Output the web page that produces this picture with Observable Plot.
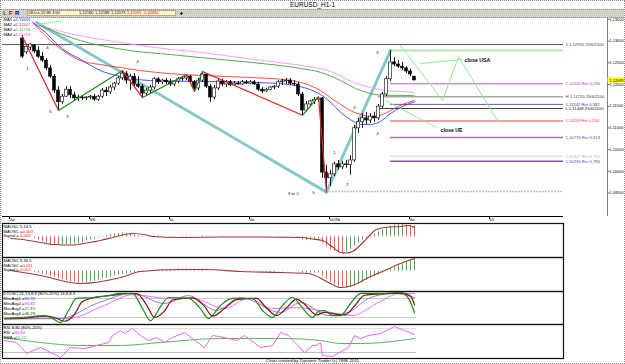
<!DOCTYPE html>
<html><head><meta charset="utf-8">
<script src="https://cdn.jsdelivr.net/npm/d3@7"></script>
<script src="https://cdn.jsdelivr.net/npm/@observablehq/plot@0.6"></script>
<style>
body{margin:0;background:#fff;}
#wrap{position:relative;width:625px;height:364px;overflow:hidden;background:#fff;font-family:"Liberation Sans",Arial,sans-serif;color:#000;}
.abs{position:absolute;white-space:nowrap;}
#title{left:0;top:0;width:625px;height:9px;text-align:center;font-size:6.5px;line-height:9px;}
#toolbar{left:1px;top:9px;width:623px;height:7px;background:#d4d0c8;border-top:1px dotted #8a8a8a;border-bottom:1px dotted #8a8a8a;}
#box{left:27px;top:10px;width:149px;height:6px;background:#fdf6c8;border:1px solid #b0a890;box-sizing:border-box;}
.tb{top:10px;font-size:4px;line-height:6px;}
.pane{position:absolute;left:0;}
#caption{left:0;top:358px;width:625px;text-align:center;font-size:4.4px;line-height:6px;}
#frame{left:0;top:0;width:623px;height:362px;border:1px dotted #8a8a8a;pointer-events:none;}
</style></head>
<body>
<div id="wrap">
  <div id="title" class="abs">EURUSD_H1-1</div>
  <div id="toolbar" class="abs"></div>
  <div class="abs" style="left:3px;top:9px;font-size:6px;font-weight:bold;color:#008000;line-height:8px">L</div>
  <div class="abs" style="left:9px;top:9px;font-size:6px;font-weight:bold;color:#c00000;line-height:8px">F</div>
  <div class="abs" style="left:15px;top:9px;font-size:6px;font-weight:bold;color:#0000c0;line-height:8px">R</div>
  <div id="box" class="abs"></div>
  <div class="abs tb" style="left:28.5px">08-Lis-15 Wt 3:00</div>
  <div class="abs tb" style="left:79px">1,12180</div>
  <div class="abs tb" style="left:95px">1,12186</div>
  <div class="abs tb" style="left:111px">1,12079</div>
  <div class="abs tb" style="left:127px;color:#e00000">1,12095</div>
  <div class="abs tb" style="left:143px;color:#e00000">-0,00260</div>
  <div class="abs" style="left:180px;top:9px;font-size:5.5px;line-height:8px">&#9830;</div>
  <div id="p1" class="pane" style="top:223px"></div>
  <div id="p2" class="pane" style="top:257px"></div>
  <div id="p3" class="pane" style="top:291px"></div>
  <div id="p4" class="pane" style="top:324px"></div>
  <div id="p0" class="pane" style="top:0px"></div>
  <div id="caption" class="abs">Chart created by Dynamic Trader (c) 1996-2011</div>
  <div id="frame" class="abs"></div>
</div>
<script>
// ---------------- DATA ----------------
const open = [1.1306,1.1274,1.1285,1.1290,1.1278,1.1264,1.1255,1.1237,1.1218,1.1186,
1.1159,1.1172,1.1188,1.1175,1.1168,1.1170,1.1168,1.1170,1.1172,1.1165,
1.1172,1.1186,1.1182,1.1193,1.1202,1.1214,1.1225,1.1209,1.1218,1.1200,
1.1195,1.1179,1.1186,1.1193,1.1212,1.1205,1.1209,1.1205,1.1200,1.1207,
1.1212,1.1214,1.1218,1.1205,1.1191,1.1209,1.1223,1.1195,1.1170,1.1191,
1.1207,1.1200,1.1205,1.1198,1.1202,1.1200,1.1205,1.1202,1.1205,1.1200,
1.1188,1.1184,1.1188,1.1193,1.1195,1.1205,1.1207,1.1209,1.1202,1.1200,
1.1177,1.1140,1.1154,1.1161,1.1165,1.1168,1.0997,1.0984,1.0993,1.1016,
1.1009,1.1016,1.1014,1.1025,1.1099,1.1113,1.1122,1.1117,1.1126,1.1122,
1.1149,1.1177,1.1212,1.1251,1.1246,1.1241,1.1237,1.1230,1.12180];
const high = [1.1313,1.1292,1.1294,1.1292,1.1287,1.1274,1.1260,1.1244,1.1223,1.1195,
1.1177,1.1195,1.1195,1.1182,1.1175,1.1175,1.1172,1.1175,1.1177,1.1175,
1.1191,1.1193,1.1198,1.1205,1.1218,1.1232,1.1230,1.1223,1.1225,1.1218,
1.1200,1.1191,1.1198,1.1216,1.1216,1.1212,1.1214,1.1212,1.1209,1.1216,
1.1218,1.1223,1.1221,1.1209,1.1214,1.1230,1.1225,1.1200,1.1198,1.1214,
1.1212,1.1209,1.1209,1.1207,1.1207,1.1209,1.1209,1.1209,1.1209,1.1205,
1.1193,1.1191,1.1195,1.1198,1.1209,1.1212,1.1214,1.1214,1.1209,1.1205,
1.1182,1.1161,1.1163,1.1170,1.1172,1.1170,1.1014,1.1002,1.1021,1.1025,
1.1023,1.1025,1.1036,1.1106,1.1122,1.1133,1.1136,1.1133,1.1136,1.1154,
1.1182,1.1218,1.1278,1.1262,1.1255,1.1251,1.1241,1.1235,1.12186];
const low = [1.1260,1.1269,1.1278,1.1271,1.1260,1.1251,1.1232,1.1214,1.1179,1.1140,
1.1154,1.1170,1.1168,1.1161,1.1161,1.1163,1.1163,1.1165,1.1161,1.1161,
1.1168,1.1172,1.1177,1.1186,1.1198,1.1209,1.1200,1.1186,1.1195,1.1191,
1.1170,1.1172,1.1179,1.1188,1.1200,1.1200,1.1200,1.1195,1.1195,1.1202,
1.1207,1.1209,1.1200,1.1184,1.1186,1.1205,1.1191,1.1159,1.1165,1.1186,
1.1195,1.1193,1.1195,1.1195,1.1198,1.1198,1.1200,1.1200,1.1198,1.1184,
1.1179,1.1182,1.1186,1.1188,1.1191,1.1198,1.1200,1.1198,1.1195,1.1172,
1.1129,1.1136,1.1149,1.1154,1.1159,1.0984,1.0952,1.0965,1.0988,1.1002,
1.1004,1.1007,1.0991,1.1021,1.1087,1.1099,1.1108,1.1110,1.1113,1.1117,
1.1145,1.1172,1.1207,1.1241,1.1237,1.1232,1.1225,1.1218,1.12079];
const close = [1.1264,1.1287,1.1292,1.1276,1.1264,1.1255,1.1237,1.1218,1.1186,1.1159,
1.1172,1.1188,1.1175,1.1168,1.1170,1.1168,1.1170,1.1172,1.1165,1.1172,
1.1186,1.1182,1.1193,1.1202,1.1214,1.1225,1.1209,1.1218,1.1200,1.1195,
1.1179,1.1186,1.1193,1.1212,1.1205,1.1209,1.1205,1.1200,1.1207,1.1212,
1.1214,1.1218,1.1205,1.1191,1.1209,1.1223,1.1195,1.1170,1.1191,1.1207,
1.1200,1.1205,1.1198,1.1202,1.1200,1.1205,1.1202,1.1205,1.1200,1.1188,
1.1184,1.1188,1.1193,1.1195,1.1205,1.1207,1.1209,1.1202,1.1200,1.1177,
1.1140,1.1154,1.1161,1.1165,1.1168,1.0997,1.0984,1.0993,1.1016,1.1009,
1.1016,1.1014,1.1025,1.1099,1.1113,1.1122,1.1117,1.1126,1.1122,1.1149,
1.1177,1.1212,1.1251,1.1246,1.1241,1.1237,1.1230,1.1223,1.12095];

// moving averages [bar, price]
const ma1 = [[2.5,1.1343],[5.75,1.1320],[8.75,1.1292],[11.25,1.1274],[13.75,1.1262],[17,1.1244],[19.5,1.1232],[23.25,1.1221],[27,1.1214],[32,1.1209],[44.5,1.1207],[57,1.1205],[64.5,1.1202],[69.5,1.1195],[72,1.1188],[74.5,1.1177],[77,1.1159],[79.5,1.1136],[82,1.1119],[84.5,1.1108],[87,1.1108],[89.5,1.1115],[92,1.1133],[94.5,1.1147],[98,1.1160]];
const ma2 = [[2.75,1.1341],[7,1.1301],[10.75,1.1274],[14.5,1.1255],[19.5,1.1246],[24.5,1.1239],[29.5,1.1232],[37,1.1225],[44.5,1.1221],[57,1.1216],[64.5,1.1212],[69.5,1.1205],[74.5,1.1186],[77,1.1170],[79.5,1.1154],[82,1.1140],[84.5,1.1131],[87,1.1126],[89.5,1.1129],[92,1.1140],[94.5,1.1152],[98,1.1163]];
const ma3 = [[3.75,1.1338],[9.5,1.1317],[14.5,1.1301],[19.5,1.1290],[27,1.1278],[37,1.1269],[44.5,1.1262],[57,1.1251],[69.5,1.1237],[74.5,1.1228],[79.5,1.1209],[83.25,1.1191],[87,1.1179],[90.75,1.1175],[94.5,1.1175],[98,1.1174]];
const ma4 = [[3.75,1.1338],[12,1.1317],[19.5,1.1304],[29.5,1.1290],[37,1.1281],[44.5,1.1274],[52.75,1.1264],[62,1.1253],[69.5,1.1244],[77,1.1230],[82.75,1.1205],[87,1.1193],[91.25,1.1186],[94.5,1.1184],[98,1.1182]];
const maNames = ["MA1 =","MA2 =","MA3 =","MA4 ="];
const maValues = ["1,11605","1,11507","1,11733","1,11783"];

// wave zigzags [bar, price]
const zigDown = [[[0,1.1310],[9,1.1140]],[[25,1.1232],[30,1.1170]],[[41,1.1223],[43,1.1184]],[[45,1.1230],[70,1.1129]],[[74,1.1172],[76,1.0952]]];
const zigUp = [[[9,1.1140],[25,1.1232]],[[30,1.1170],[41,1.1223]],[[43,1.1184],[45,1.1230]],[[70,1.1129],[74,1.1172]]];
const trendPath = [[3.5,1.1343],[76,1.0952],[92,1.1278]];
const projTop = [[3.5,1.1338],[10,1.1347]];
const projUSA = [[94.5,1.1290],[105,1.1163],[109,1.1264],[118.75,1.1117]];
const pointerUSA = [[99.5,1.1248],[110,1.1258]];
const projUE = [[90.75,1.1163],[103.5,1.1101]];

// levels
const topLevel = 1.1292, topLabel = "1 1,12920 25/6/2100";
const peakPrice = 1.12783, peakBar = 92;
const lowPrice = 1.09535, lowBar = 76;
const fibRatios = ["0,236","0,382","0,500","0,618","0,750","0,786"];
const fibPrices = [1.12016,1.11542,1.11159,1.10776,1.10347,1.10230];
const hlPrices = [1.1172,1.11448];
const hlLabels = ["H 1,11720 25/6/2100","L 1,11448 25/6/2100"];

// wave labels
const waveText = ["1","4","5","3","4","3 or C","5","1","2","3","4","5"];
const waveBar = [1.25,6.25,7,11.25,28.75,67.75,72.75,78,81.25,83,88.75,88.75];
const wavePrice = [1.1237,1.1285,1.1138,1.1126,1.1253,1.0949,1.0951,1.1043,1.0970,1.1147,1.1087,1.1274];

// axes
const yTicks = [1.095,1.100,1.105,1.110,1.115,1.120,1.125,1.130,1.135];
const xTicks = [-3.5,16.5,36.5,56.5,76.5,96.5,116.5];
const xLabels = ["2w","3/6","5c","6o","10/3b","9w","15"];
const lastPrice = 1.12095;

// MAOSC 5,14,5
const osc1 = [null,null,null,-0.00045,-0.0009,-0.00135,-0.0018,-0.00225,-0.0024,-0.00255,
-0.0024,-0.0024,-0.00225,-0.0021,-0.00195,-0.00165,-0.0012,-0.0009,-0.0006,-0.0003,
0.00015,0.00045,0.00075,0.0009,0.00105,0.0012,0.00105,0.0009,0.0006,0.00045,
0.00015,0,0.00015,0.0003,0.0003,0.00015,0,-0.00015,-0.00015,0,
0.00015,0.0003,0.00015,-0.00015,0,0.0003,0.00015,-0.0003,-0.00015,0,
0.00015,0.00015,0,0,0.00015,0.00015,0.00015,0.00015,0.00015,0,
-0.00015,-0.00015,-0.00015,0,0.00015,0.00015,0.00015,0.00015,0,-0.0003,
-0.0009,-0.00105,-0.0009,-0.00075,-0.0006,-0.0018,-0.003,-0.0039,-0.00435,-0.0048,
-0.00495,-0.0045,-0.00375,-0.0027,-0.0018,-0.0009,-0.0003,0.0003,0.0009,0.0015,
0.0021,0.0027,0.0033,0.0036,0.00375,0.00375,0.0036,0.00345,0.0033];
const sig1 = [[-3,-0.00045],[0,-0.00075],[4.5,-0.00165],[8,-0.00225],[12.5,-0.0024],[16,-0.0018],[19.5,-0.00105],[23,0],[27.5,0.00105],[31,0.0006],[32.5,0.00015],[39.5,-0.00015],[49.5,0],[59.5,0],[69.5,-0.00015],[72.5,-0.0006],[75,-0.00105],[77.5,-0.003],[79.5,-0.00465],[81,-0.0048],[82.5,-0.00435],[85.5,-0.0012],[88.5,0.00225],[91.5,0.003],[94.5,0.00315],[96.5,0.00345],[98,0.00285]];
// MAOSC 5,34,5
const osc2 = [null,null,null,-0.0003,-0.0006,-0.0009,-0.0012,-0.0015,-0.0018,-0.00225,
-0.00255,-0.00285,-0.00315,-0.0033,-0.0036,-0.00345,-0.0033,-0.00315,-0.003,-0.0027,
-0.0024,-0.0021,-0.0018,-0.0015,-0.0012,-0.0009,-0.00075,-0.0006,-0.00045,-0.0003,
-0.00015,0,0.00015,0.0003,0.00045,0.00045,0.0006,0.0006,0.0006,0.0006,
0.0006,0.0006,0.0006,0.00045,0.00045,0.00045,0.0003,0,0,0.00015,
0.00015,0.00015,0,0,0,0,0.00015,0.00015,0.00015,0,
-0.00015,-0.0003,-0.0003,-0.0003,-0.00015,-0.00015,0,0,0,-0.00015,
-0.00045,-0.0006,-0.0006,-0.0006,-0.0006,-0.0015,-0.0024,-0.0033,-0.0039,-0.0045,
-0.00495,-0.0051,-0.00495,-0.0045,-0.0039,-0.0033,-0.0027,-0.0021,-0.00165,-0.0012,
-0.0006,0,0.00075,0.0012,0.00165,0.0021,0.0027,0.0033,0.0039];
const sig2 = [[-3,0.0002],[4.5,-0.0013],[14.5,-0.0037],[24.5,-0.0019],[29.5,-0.0001],[39.5,0.0005],[45.5,0.0005],[54.5,-0.0001],[64.5,-0.0004],[71.5,-0.0007],[76.5,-0.0034],[79.5,-0.0049],[82.5,-0.0043],[86.5,-0.0019],[90.5,0.0002],[94.5,0.0023],[98,0.0038]];

// DTOSC
const stGreen = [[-4.5,17],[0.5,20],[5.5,26],[7.5,17],[9.5,4],[11.5,42],[13.5,80],[17.5,83],[21.5,89],[24.5,96],[27.5,96],[30,48],[32,10],[34.5,54],[36.5,83],[41.5,80],[44.5,48],[46.5,17],[49.5,58],[52.5,80],[57.5,80],[60,42],[62.5,20],[65,58],[67.5,83],[69.5,58],[72.5,20],[74,39],[75.5,42],[77.5,26],[79.5,26],[82,64],[84.5,96],[90.5,96],[94.5,99],[96.5,80],[98,35]];
const stRed = [[-4.5,16],[0.5,18],[5.5,24],[8,20],[10.5,8],[13,30],[15,70],[18.5,84],[22.5,90],[25.5,95],[28.5,95],[31,60],[33,20],[35.5,40],[37.5,75],[42.5,82],[45.5,55],[47.5,24],[50.5,48],[53.5,76],[58.5,80],[61,50],[63.5,26],[66,50],[68.5,78],[70.5,62],[73.5,28],[75.5,36],[78.5,30],[80.5,28],[83,56],[85.5,90],[91.5,95],[95,97],[97,88],[98,60]];
const stBlue = [[-4.5,17],[9.5,17],[18.5,64],[27.5,96],[35.5,64],[41.5,89],[48.5,42],[54.5,83],[64.5,36],[69.5,67],[76.5,26],[81.5,36],[86.5,80],[92.5,96],[98,83]];
const stPink = [[-4.5,15],[11.5,17],[20.5,58],[27.5,92],[36.5,80],[42.5,80],[50.5,48],[56.5,80],[62.5,48],[68.5,51],[74.5,42],[82.5,26],[88.5,64],[94.5,96],[98,96]];

// RSI
const rsi = [[-4.5,50],[-1.5,45],[1,17.5],[4.5,32.5],[9.5,7.5],[12,32.5],[15.5,30],[18.5,37.5],[21.5,45],[22.5,62.5],[24.5,75],[25.5,67.5],[27.5,80],[29.5,62.5],[31.5,50],[33.5,57.5],[35.5,45],[37.5,57.5],[40.5,70],[42.5,55],[45.5,32.5],[47.5,62.5],[50.5,57.5],[53.5,50],[55.5,62.5],[59.5,32.5],[62.5,37.5],[64.5,70],[66.5,62.5],[70.5,20],[72.5,37.5],[73.5,37.5],[74.5,45],[75,12.5],[77.5,10],[81.5,32.5],[83,62.5],[84.5,55],[86.5,62.5],[89.5,67.5],[93,85],[95.5,75],[98,65]];
const rsiEma = [[-4.5,57],[4.5,45],[14.5,37.5],[24.5,37.5],[34.5,45],[49.5,55],[64.5,55],[74.5,50],[79.5,42.5],[84.5,42.5],[94.5,50],[98,55]];

// ---------------- DRAW ----------------
const FONT = "'Liberation Sans', Arial, sans-serif";
const FS = 4.2;
const fmt5 = d => d.toFixed(5).replace(".", ",");
const lineEnd = 135.25;
const fibStyle = [
  {stroke:"#c058c8", w:1, text:"#a040b0"},
  {stroke:"#7050d0", w:1, text:"#5030c0"},
  {stroke:"#ff9c9c", w:2, text:"#ff3030"},
  {stroke:"#b070b8", w:1.5, text:"#8040a0"},
  {stroke:"#cfcfcf", w:1, text:"#b0b0b0"},
  {stroke:"#9050b0", w:1.5, text:"#7040a0"}];
const hlStyle = [{stroke:"#a8a8a8", w:1.5, text:"#404040"},{stroke:"#404040", w:1, text:"#202020"}];
const maColor = ["#2020ff","#ff2020","#30a030","#ff40ff"];
const style = {fontFamily: FONT, fontSize: FS + "px", background: "none", overflow: "visible", color: "#000"};

function legend(rows, dy0, step, valueDx) {
  const marks = [];
  rows.forEach((r, k) => {
    marks.push(Plot.text([r[0]], {frameAnchor: "top-left", text: d => d, dx: 1, dy: dy0 + k * step, textAnchor: "start", lineAnchor: "middle", fill: "#000", fontSize: FS}));
    if (r[1]) marks.push(Plot.text([r[1]], {frameAnchor: "top-left", text: d => d, dx: 1 + (r[3] ?? valueDx), dy: dy0 + k * step, textAnchor: "start", lineAnchor: "middle", fill: r[2], fontSize: FS}));
  });
  return marks;
}

const bars = close.map((c, i) => ({i, o: open[i], h: high[i], l: low[i], c}));
const xLabelMap = new Map(xTicks.map((t, k) => [t, xLabels[k]]));

const mainMarks = [
  Plot.ruleY([topLevel], {x1: -5, x2: lineEnd, stroke: "#555", strokeWidth: 1}),
  Plot.text([topLevel], {x: lineEnd, y: d => d, text: () => topLabel, dx: 2, textAnchor: "start", fill: "#404040", fontSize: FS}),
  Plot.ruleY([peakPrice], {x1: peakBar, x2: lineEnd, stroke: "#b4e6b4", strokeWidth: 2}),
  Plot.ruleY([lowPrice], {x1: lowBar, x2: lineEnd, stroke: "#a8d4b0", strokeWidth: 1.5, strokeDasharray: "2,1"}),
];
fibPrices.forEach((p, k) => {
  mainMarks.push(Plot.ruleY([p], {x1: peakBar, x2: lineEnd, stroke: fibStyle[k].stroke, strokeWidth: fibStyle[k].w}));
  mainMarks.push(Plot.text([p], {x: lineEnd, y: d => d, text: d => `${fmt5(d)} Ret ${fibRatios[k]}`, dx: 2, textAnchor: "start", fill: fibStyle[k].text, fontSize: FS}));
});
hlPrices.forEach((p, k) => {
  mainMarks.push(Plot.ruleY([p], {x1: 89, x2: lineEnd, stroke: hlStyle[k].stroke, strokeWidth: hlStyle[k].w}));
  mainMarks.push(Plot.text([p], {x: lineEnd, y: d => d, text: () => hlLabels[k], dx: 2, textAnchor: "start", fill: hlStyle[k].text, fontSize: FS}));
});
mainMarks.push(
  Plot.line(trendPath, {stroke: "#86c8c8", strokeWidth: 3}),
  Plot.line(ma4, {stroke: "#ff8cff", strokeWidth: 1, strokeDasharray: "2,1", curve: "monotone-x"}),
  Plot.line(ma3, {stroke: maColor[2], strokeWidth: 1, curve: "monotone-x", strokeOpacity: 0.85}),
  Plot.line(ma2, {stroke: maColor[1], strokeWidth: 1, curve: "monotone-x", strokeOpacity: 0.8}),
  Plot.line(ma1, {stroke: maColor[0], strokeWidth: 1, curve: "monotone-x", strokeOpacity: 0.8}),
  Plot.ruleX(bars, {x: "i", y1: "l", y2: "h", stroke: "#000", strokeWidth: 0.9}),
  Plot.rect(bars, {x1: d => d.i - 0.36, x2: d => d.i + 0.36, y1: "o", y2: "c", fill: d => d.c < d.o ? "#000" : "#fff", stroke: "#000", strokeWidth: 0.6}),
  ...zigDown.map(seg => Plot.line(seg, {stroke: "#e02020", strokeWidth: 1.2})),
  ...zigUp.map(seg => Plot.line(seg, {stroke: "#1a8a1a", strokeWidth: 1.2})),
  Plot.line(projTop, {stroke: "#90ee90", strokeWidth: 1}),
  Plot.line(projUSA, {stroke: "#90ee90", strokeWidth: 1}),
  Plot.line(pointerUSA, {stroke: "#90ee90", strokeWidth: 1}),
  Plot.line(projUE, {stroke: "#90ee90", strokeWidth: 1}),
  Plot.text(["close USA"], {x: 110.5, y: 1.1256, text: d => d, textAnchor: "start", fontWeight: "bold", fontSize: 5.2, fill: "#000"}),
  Plot.text(["close UE"], {x: 104.5, y: 1.1095, text: d => d, textAnchor: "start", fontWeight: "bold", fontSize: 5.2, fill: "#000"}),
  Plot.text(waveText, {x: (d, k) => waveBar[k], y: (d, k) => wavePrice[k], text: d => d, fontSize: FS, fill: "#000"}),
  ...legend(maNames.map((n, k) => [n, maValues[k], maColor[k]]), 1.5, 5, 12),
  Plot.ruleY([1.089585], {x1: -5, x2: lineEnd, stroke: "#000"}),
  Plot.ruleX([146.25], {stroke: "#808080"}),
  Plot.axisY(yTicks, {anchor: "right", tickSize: 1.5, tickPadding: 0.5, tickFormat: fmt5, fontSize: 3.9, stroke: "#606060"}),
  Plot.axisX(xTicks, {anchor: "bottom", tickSize: 3, tickPadding: -1, tickFormat: d => xLabelMap.get(d), textAnchor: "start", dx: 1, fontSize: FS}),
  Plot.rect([lastPrice], {x1: 146.4, x2: 155, y1: d => d - 0.0006, y2: d => d + 0.0006, fill: "#ffff00"}),
  Plot.text([lastPrice], {x: 146.25, y: d => d, text: fmt5, dx: 2, textAnchor: "start", fill: "#000", fontSize: 3.9})
);

const main = Plot.plot({
  width: 625, height: 228, marginTop: 18, marginBottom: 12, marginLeft: 2, marginRight: 18,
  x: {domain: [-5, 146.25], label: null},
  y: {domain: [1.089585, 1.135207], label: null},
  color: {type: "identity"},
  style, marks: mainMarks
});
document.getElementById("p0").append(main);

function histData(arr) {
  let prev = 0;
  const out = [];
  arr.forEach((v, i) => {
    if (v === null) return;
    out.push({i, v, color: v >= prev ? "#5aaa5a" : "#ff5a5a"});
    prev = v;
  });
  return out;
}

function macdPane(hist, sig, domain, title, oscTxt, sigTxt) {
  return Plot.plot({
    width: 625, height: 34, marginTop: 0, marginBottom: 0, marginLeft: 2, marginRight: 62,
    x: {domain: [-5, lineEnd], axis: null},
    y: {domain, axis: null},
    color: {type: "identity"},
    style,
    marks: [
      Plot.ruleX(histData(hist), {x: "i", y1: 0, y2: "v", stroke: "color", strokeWidth: 1}),
      Plot.line(sig, {stroke: "#a03838", strokeWidth: 1.1, curve: "monotone-x"}),
      ...legend([[title], ["MAOSC =", oscTxt, "#ff0000", 19], ["Signal =", sigTxt, "#ff0000", 16.5]], 3, 4.8, 16),
      Plot.frame({stroke: "#111", strokeWidth: 1.2})
    ]
  });
}
document.getElementById("p1").append(macdPane(osc1, sig1, [-0.00615, 0.00405], "MAOSC 5,14,5", "0,003", "0,006"));
document.getElementById("p2").append(macdPane(osc2, sig2, [-0.00609, 0.00411], "MAOSC 5,34,5", "0,011", "0,012"));

document.getElementById("p3").append(Plot.plot({
  width: 625, height: 33, marginTop: 0, marginBottom: 0, marginLeft: 2, marginRight: 62,
  x: {domain: [-5, lineEnd], axis: null},
  y: {domain: [-2.2, 101.9], axis: null},
  style,
  marks: [
    Plot.ruleY([80, 20], {x1: -5, x2: 98.5, stroke: "#c8c8c8"}),
    Plot.line(stPink, {stroke: "#ff66ff", strokeWidth: 1, curve: "monotone-x"}),
    Plot.line(stBlue, {stroke: "#8484c4", strokeWidth: 1, curve: "monotone-x"}),
    Plot.line(stRed, {stroke: "#7a1010", strokeWidth: 1.2, curve: "monotone-x"}),
    Plot.line(stGreen, {stroke: "#1c8a1c", strokeWidth: 1.2, curve: "monotone-x"}),
    ...legend([["DTOSC 21,13,8,8 (80%-20%) 14,8,8,3"], ["MovAvg1 =", "80,38", "#4040ff"], ["MovAvg2 =", "93,82", "#ff00ff"], ["MovAvg3 =", "27,83", "#008000"], ["MovAvg4 =", "46,29", "#800000"]], 2.2, 5.1, 21),
    Plot.frame({stroke: "#111", strokeWidth: 1.2})
  ]
}));

document.getElementById("p4").append(Plot.plot({
  width: 625, height: 34, marginTop: 0, marginBottom: 0, marginLeft: 2, marginRight: 62,
  x: {domain: [-5, lineEnd], axis: null},
  y: {domain: [5, 90], axis: null},
  style,
  marks: [
    Plot.ruleY([20], {x1: -5, x2: 98.5, stroke: "#c0c0c0"}),
    Plot.ruleY([80], {x1: -5, x2: 98.5, stroke: "#e0e0e0"}),
    Plot.line(rsiEma, {stroke: "#60b060", strokeWidth: 1, curve: "monotone-x"}),
    Plot.line(rsi, {stroke: "#f060f0", strokeWidth: 1}),
    ...legend([["RSI 8,80 (80%-20%)"], ["RSI =", "80,94", "#ff00ff", 11], ["EMA =", "51,22", "#30a030", 12]], 3.5, 5, 11),
    Plot.frame({stroke: "#111", strokeWidth: 1.2})
  ]
}));
</script>
</body></html>
